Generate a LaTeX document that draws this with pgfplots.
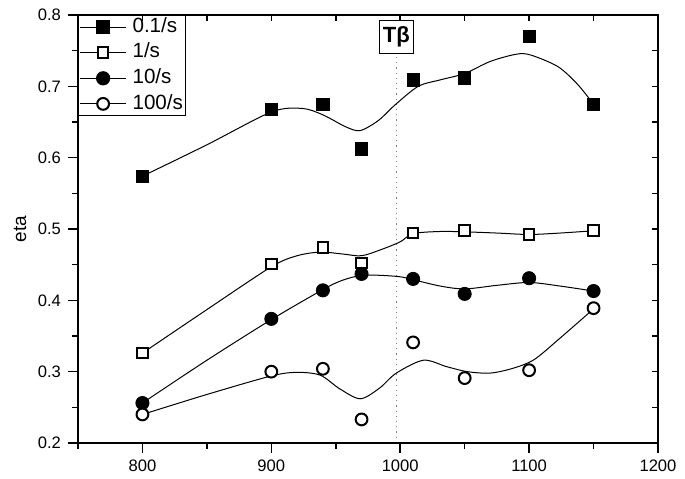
\documentclass[border=0pt]{standalone}
\usepackage{fontspec}
\setmainfont{Liberation Sans}
\usepackage{pgfplots}
\pgfplotsset{compat=1.18}

% markers
\pgfplotstableread{
x     a      b      c      d
800   0.574  0.326  0.256  0.240
900   0.668  0.451  0.374  0.300
940   0.675  0.474  0.414  0.304
970   0.612  0.452  0.437  0.233
1010  0.709  0.494  0.430  0.341
1050  0.712  0.498  0.409  0.291
1100  0.770  0.492  0.431  0.302
1150  0.675  0.498  0.413  0.389
}\marks

\pgfplotsset{
  common/.style={
    scale only axis, width=290pt, height=214pt,
    xmin=750, xmax=1200, ymin=0.2, ymax=0.8,
  },
  curve/.style={black, line width=0.5pt, smooth, no marks, forget plot},
}

\begin{document}
\begin{tikzpicture}[font=\fontsize{8.3}{10}\selectfont]
\begin{axis}[common, name=ax,
  xtick={800,900,1000,1100,1200}, minor xtick={750,850,950,1050,1150},
  ytick={0.2,0.3,0.4,0.5,0.6,0.7,0.8}, minor ytick={0.25,0.35,0.45,0.55,0.65,0.75},
  xtick pos=left, ytick pos=left, tick align=outside,
  major tick length=5pt, minor tick length=3pt,
  axis line style={line width=0.8pt},
  every tick/.style={black, line width=0.8pt},
  /pgf/number format/1000 sep={},
  /pgf/number format/assume math mode=true,
  yticklabel style={/pgf/number format/fixed, /pgf/number format/precision=1, /pgf/number format/fixed zerofill},
  ylabel={eta},
  ylabel style={at={(axis description cs:-0.1,0.5)}, anchor=center, font=\fontsize{9.5}{11}\selectfont},
  legend style={at={(0,1)}, anchor=north west, draw=black, line width=0.5pt,
    font=\fontsize{10.3}{12}\selectfont, inner sep=0.4pt, row sep=2pt, column sep=2pt,
    nodes={inner sep=0.8pt, text height=0.72em, text depth=0.2em}},
  legend cell align=left,
  legend image code/.code={\draw[mark repeat=2,mark phase=2,#1] plot coordinates {(0cm,0cm)(0.41cm,0cm)(0.82cm,0cm)};},
]
\addlegendimage{black, line width=0.5pt, mark=square*, mark size=3.1pt, mark options={solid, fill=black}}
\addlegendentry{0.1/s}
\addlegendimage{black, line width=0.5pt, mark=square*, mark size=2.6pt, mark options={solid, fill=white, line width=1pt}}
\addlegendentry{1/s}
\addlegendimage{black, line width=0.5pt, mark=*, mark size=3.3pt, mark options={solid, fill=black}}
\addlegendentry{10/s}
\addlegendimage{black, line width=0.5pt, mark=*, mark size=2.95pt, mark options={solid, fill=white, line width=1pt}}
\addlegendentry{100/s}

% T beta marker line
\addplot[gray, dotted, line width=0.6pt, forget plot] coordinates {(997,0.2) (997,0.75)};

% spline curves, points
\addplot[curve] coordinates {
(800,0.574) (850,0.618) (900,0.664) (924,0.669) (940,0.660) (958,0.643)
(969,0.638) (983,0.652) (996,0.674) (1014,0.700) (1031,0.709) (1050,0.718)
(1070,0.735) (1090,0.745) (1101,0.744) (1122,0.728) (1137,0.704) (1150,0.675)};
\addplot[curve] coordinates {
(800,0.326) (850,0.387) (900,0.447) (920,0.4625) (938,0.4676) (955,0.465)
(970,0.4625) (985,0.471) (1000,0.482) (1010,0.4935) (1031,0.4965) (1050,0.496)
(1075,0.4943) (1100,0.4923) (1124,0.4943) (1150,0.4975)};
\addplot[curve] coordinates {
(800,0.256) (850,0.316) (900,0.373) (940,0.415) (955,0.428) (970,0.435)
(985,0.435) (1000,0.433) (1010,0.429) (1031,0.420) (1050,0.416) (1075,0.421)
(1100,0.425) (1124,0.420) (1150,0.413)};
\addplot[curve] coordinates {
(800,0.240) (850,0.268) (900,0.294) (920,0.299) (938,0.295) (953,0.276)
(969,0.262) (984,0.277) (997,0.298) (1018,0.316) (1036,0.307) (1052,0.300)
(1070,0.298) (1088,0.305) (1104,0.317) (1124,0.347) (1150,0.388)};

\addplot[only marks, mark=square*, mark size=3.1pt, mark options={fill=black}, forget plot] table[x=x, y=a] {\marks};
\addplot[only marks, mark=square*, mark size=2.6pt, mark options={fill=white, line width=1pt}, forget plot] table[x=x, y=b] {\marks};
\addplot[only marks, mark=*, mark size=3.3pt, mark options={fill=black}, forget plot] table[x=x, y=c] {\marks};
\addplot[only marks, mark=*, mark size=2.95pt, mark options={fill=white, line width=1pt}, forget plot] table[x=x, y=d] {\marks};

\node[draw=black, line width=0.5pt, fill=white, anchor=north, inner sep=0.6pt,
  minimum width=16.7pt, minimum height=16.3pt, font=\fontsize{11}{12}\selectfont\bfseries]
  at (axis cs:997,0.793) {Tβ};
\end{axis}

% top and right ticks point inward
\begin{axis}[common,
  xtick={750,800,...,1200},
  ytick={0.2,0.25,0.3,0.35,0.4,0.45,0.5,0.55,0.6,0.65,0.7,0.75,0.8},
  xtick pos=right, ytick pos=right, tick align=inside,
  major tick length=2.8pt,
  xticklabels={}, yticklabels={},
  axis line style={line width=0.8pt},
  every tick/.style={black, line width=0.8pt},
]
\end{axis}

\path ([xshift=-39pt,yshift=-17pt]ax.south west) rectangle ([xshift=13.5pt,yshift=7.5pt]ax.north east);
\end{tikzpicture}
\end{document}
